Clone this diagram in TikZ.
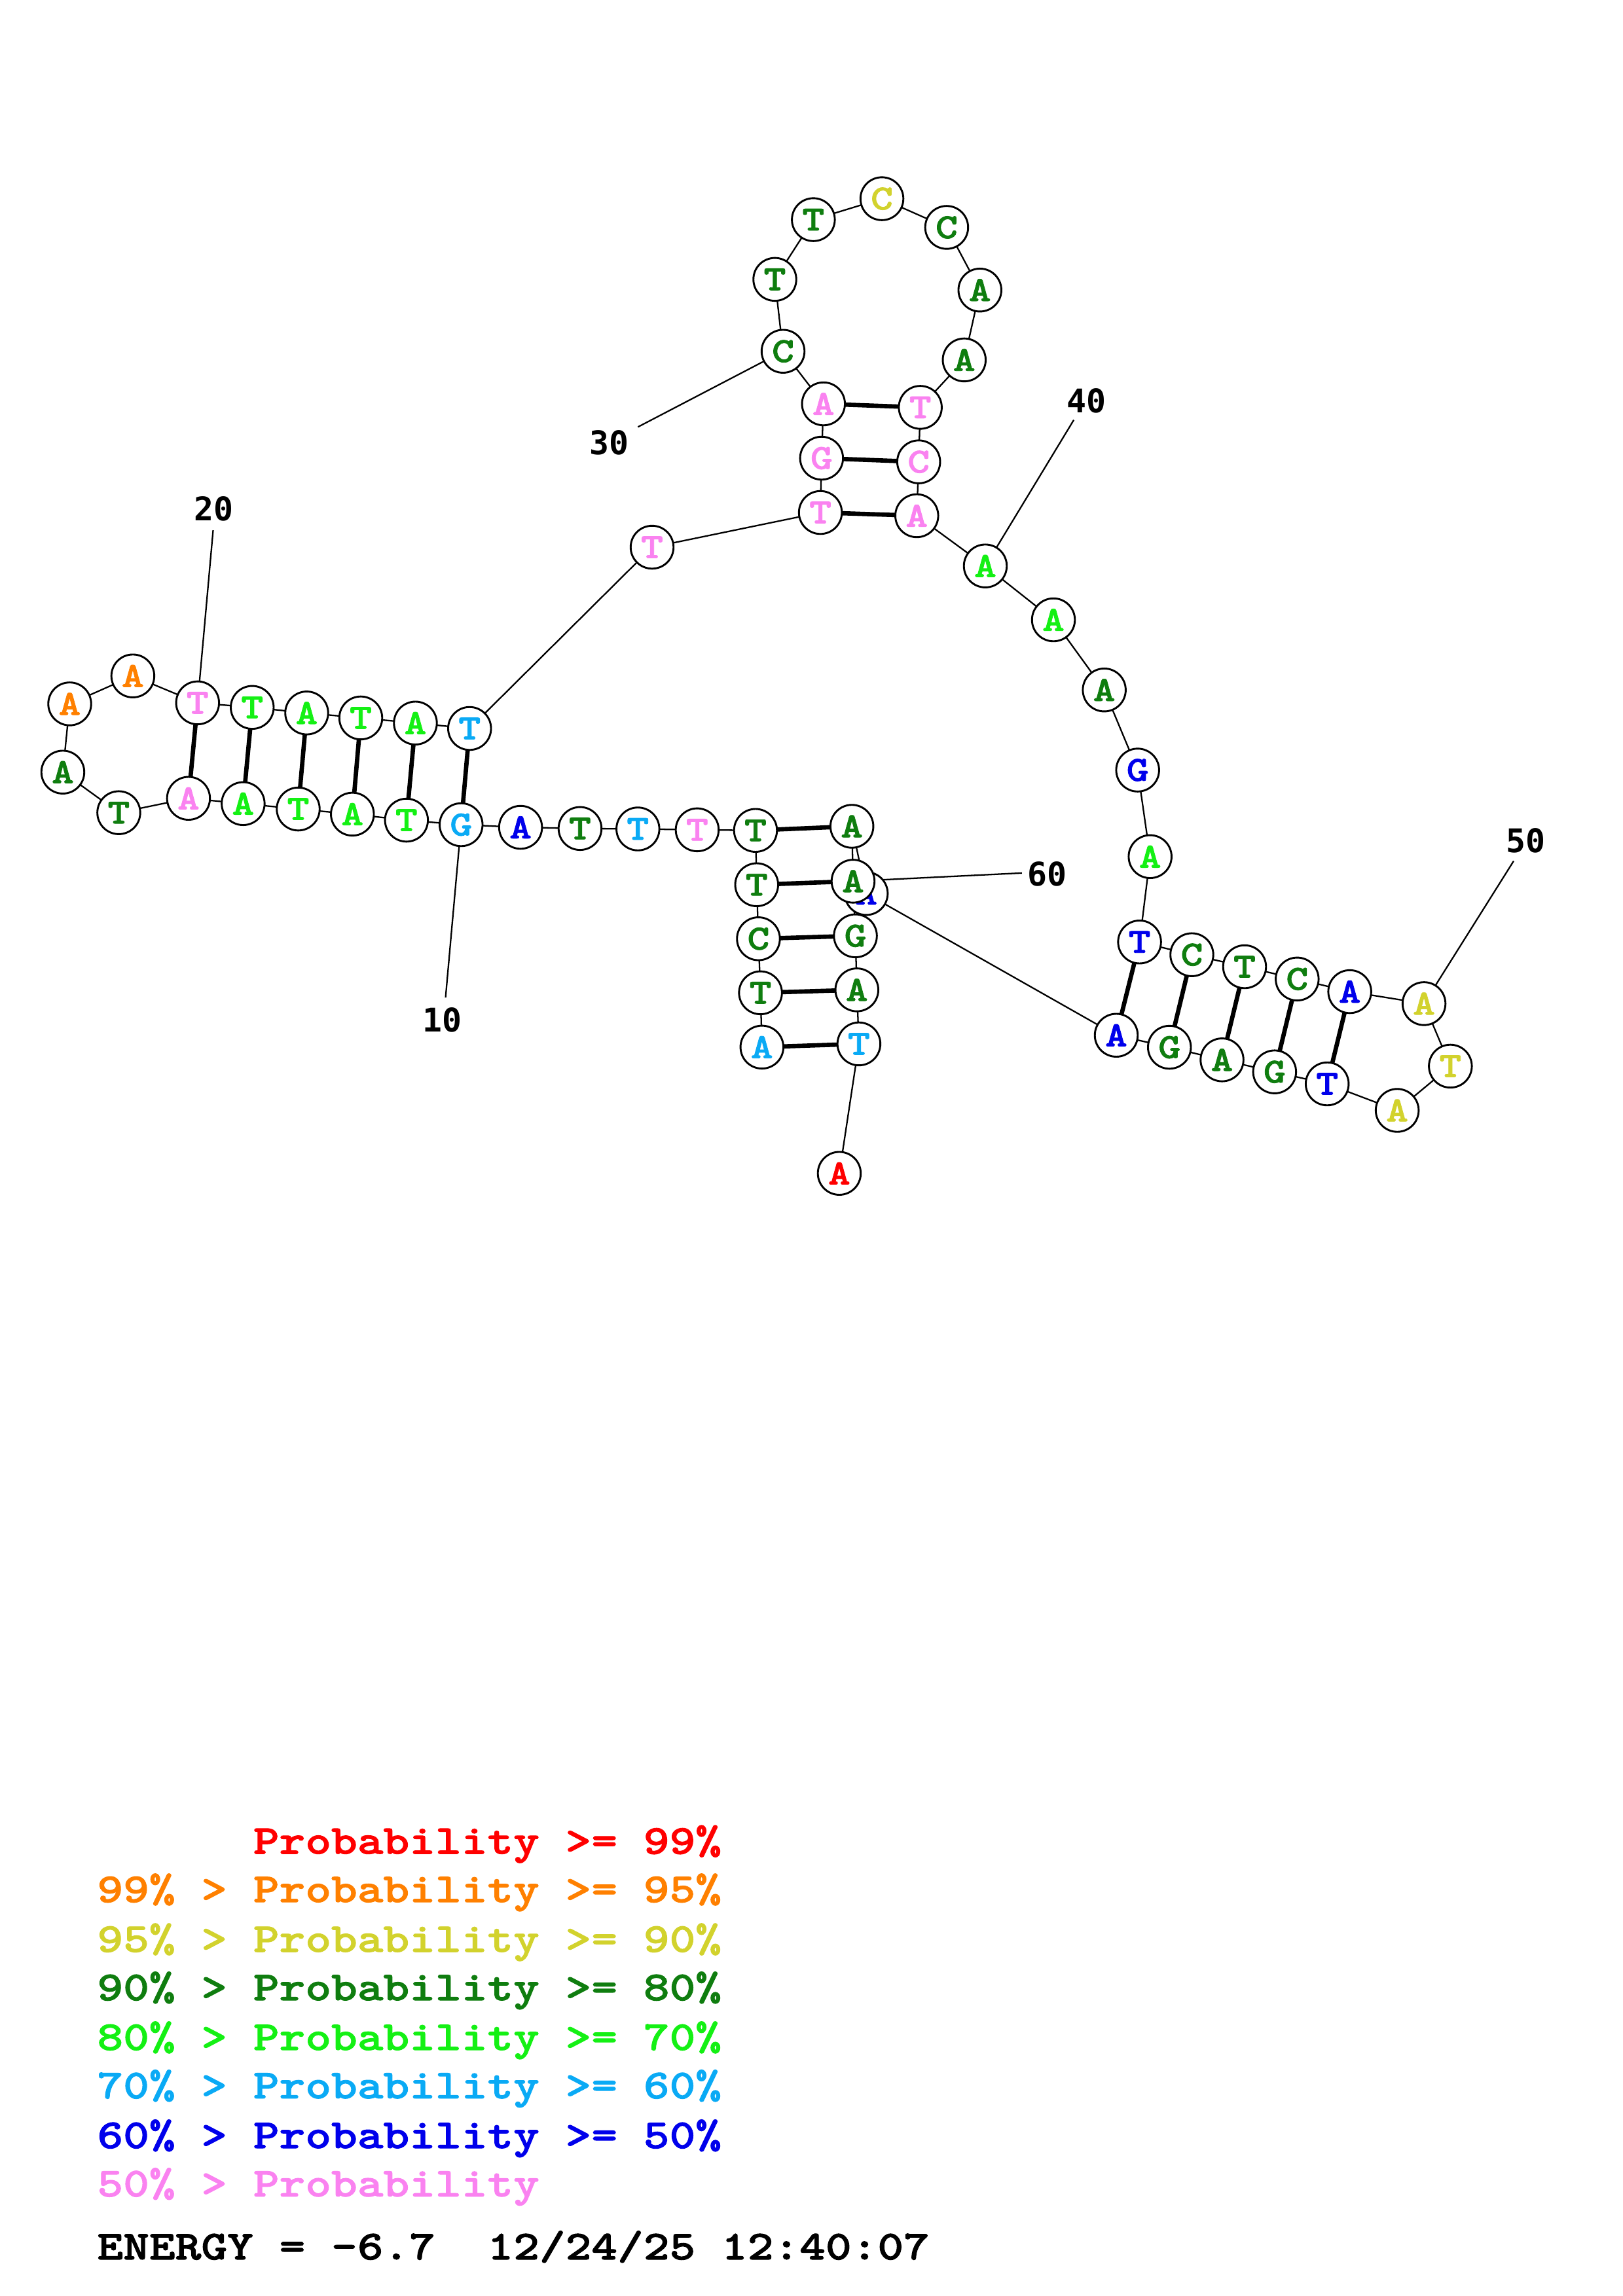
\documentclass[tikz,border=0pt]{standalone}
\usepackage{fontspec}
\newfontfamily\slabfont{lmmonolt10-bold}[Extension=.otf, FakeStretch=1.2, FakeBold=1.5]
\newfontfamily\numfont{DejaVu Sans Mono}
\usetikzlibrary{backgrounds}
\definecolor{cR}{RGB}{255,0,0}
\definecolor{cO}{RGB}{255,128,0}
\definecolor{cY}{RGB}{210,210,45}
\definecolor{cD}{RGB}{15,125,15}
\definecolor{cL}{RGB}{20,240,20}
\definecolor{cC}{RGB}{10,170,245}
\definecolor{cB}{RGB}{0,0,235}
\definecolor{cP}{RGB}{250,130,240}
\tikzset{
  base/.style={circle, draw, line width=0.7pt, fill=white, inner sep=0pt, minimum size=5.55mm,
    font=\slabfont\fontsize{13pt}{13pt}\selectfont},
  chain/.style={line width=0.55pt},
  bond/.style={line width=1.6pt},
  num/.style={inner sep=0pt, font=\numfont\bfseries\fontsize{12pt}{12pt}\selectfont},
  legend/.style={anchor=base west, inner sep=0pt, font=\slabfont\fontsize{15.2pt}{16pt}\selectfont}
}
\begin{document}
\begin{tikzpicture}[x=0.018953cm, y=-0.018953cm, line join=round, line cap=round]
\useasboundingbox (0,0) rectangle (1108,1568);
% bases: number/x/y/letter/colour
\foreach \i/\x/\y/\b/\c in {
  1/520.2/715.1/A/cC, 2/519.2/678/T/cD, 3/517.8/641.1/C/cD, 4/516.6/604.2/T/cD,
  5/515.8/567.1/T/cD, 6/476/566.7/T/cP, 7/435.5/566.1/T/cC, 8/396/565.8/T/cD,
  9/355.4/565/A/cB, 10/314.8/563.2/G/cC, 11/277.5/560.1/T/cL, 12/240.6/556/A/cL,
  13/203.6/552.5/T/cL, 14/166/548.8/A/cL, 15/128.7/545.2/A/cP, 16/81.1/555/T/cD,
  17/42.9/527.3/A/cD, 18/47.6/480.7/A/cO, 19/90.7/461.6/A/cO, 20/134.9/480/T/cP,
  21/172.2/483.1/T/cL, 22/209.4/486.9/A/cL, 23/246.3/490.3/T/cL, 24/283.6/493.8/A/cL,
  25/320.6/497.5/T/cC, 26/445.2/373.7/T/cP, 27/560.1/350/T/cP, 28/560.9/312.9/G/cP,
  29/562.2/275.8/A/cP, 30/534.6/239.9/C/cD, 31/529/190.8/T/cD, 32/555.3/150/T/cD,
  33/602.1/135.7/C/cY, 34/646.3/155.3/C/cD, 35/669/198.1/A/cD, 36/658.3/245.8/A/cD,
  37/628.3/278.2/T/cP, 38/627.2/315.4/C/cP, 39/625.9/352.2/A/cP, 40/672.7/386.5/A/cL,
  41/719.2/423.3/A/cL, 42/753.9/471.2/A/cD, 43/776.7/525.9/G/cB, 44/785.2/585/A/cL,
  45/778/643.3/T/cB, 46/813.7/652/C/cD, 47/849.7/660.2/T/cD, 48/885.6/668.6/C/cD,
  49/921.5/677.2/A/cB, 50/972.2/685.4/A/cY, 51/990.2/728.1/T/cY, 52/953.9/758.3/A/cY,
  53/906.1/740.2/T/cB, 54/870.2/732/G/cD, 55/834.3/723.8/A/cD, 56/798.4/715.2/G/cD,
  57/762.1/707/A/cB, 58/591.4/610.2/A/cB, 59/581.6/564.3/A/cD, 60/582.4/601.8/A/cD,
  61/584/639.1/G/cD, 62/585/676/A/cD, 63/586.4/712.9/T/cC, 64/573/801.3/A/cR}
  \node[base, text=\c] (n\i) at (\x,\y) {\b};
% ends of the number ticks
\coordinate (e10) at (304.2,681.2);
\coordinate (e20) at (145.5,362.1);
\coordinate (e30) at (435.5,291.6);
\coordinate (e40) at (733.1,286.8);
\coordinate (e50) at (1033.4,588);
\coordinate (e60) at (697.7,596.2);
\foreach \k/\x/\y in {10/302.1/696.6, 20/145.8/347.5, 30/416.1/302.5,
  40/741.6/273.7, 50/1041.5/574.2, 60/715.1/596.8}
  \node[num] (l\k) at (\x,\y) {\k};
\begin{scope}[on background layer]
  \foreach \i in {1,...,63}{
    \pgfmathtruncatemacro\j{\i+1}
    \draw[chain] (n\i.center) -- (n\j.center);
  }
  \foreach \k in {10,20,30,40,50,60}
    \draw[chain] (n\k.center) -- (e\k);
  \foreach \p/\q in {1/63, 2/62, 3/61, 4/60, 5/59, 10/25, 11/24, 12/23, 13/22, 14/21,
    15/20, 27/39, 28/38, 29/37, 45/57, 46/56, 47/55, 48/54, 49/53}
    \draw[bond] (n\p.center) -- (n\q.center);
\end{scope}
% legend
\foreach \yy/\cc/\txt in {1266/cR/{\phantom{99\% > }Probability >= 99\%},
  1299/cO/{99\% > Probability >= 95\%}, 1333/cY/{95\% > Probability >= 90\%},
  1366/cD/{90\% > Probability >= 80\%}, 1400/cL/{80\% > Probability >= 70\%},
  1433/cC/{70\% > Probability >= 60\%}, 1467/cB/{60\% > Probability >= 50\%},
  1500/cP/{50\% > Probability}}
  \node[legend, text=\cc] at (66,\yy) {\txt};
\node[legend] (energy) at (66,1543) {ENERGY = -6.7~~12/24/25 12:40:07};
\end{tikzpicture}
\end{document}
